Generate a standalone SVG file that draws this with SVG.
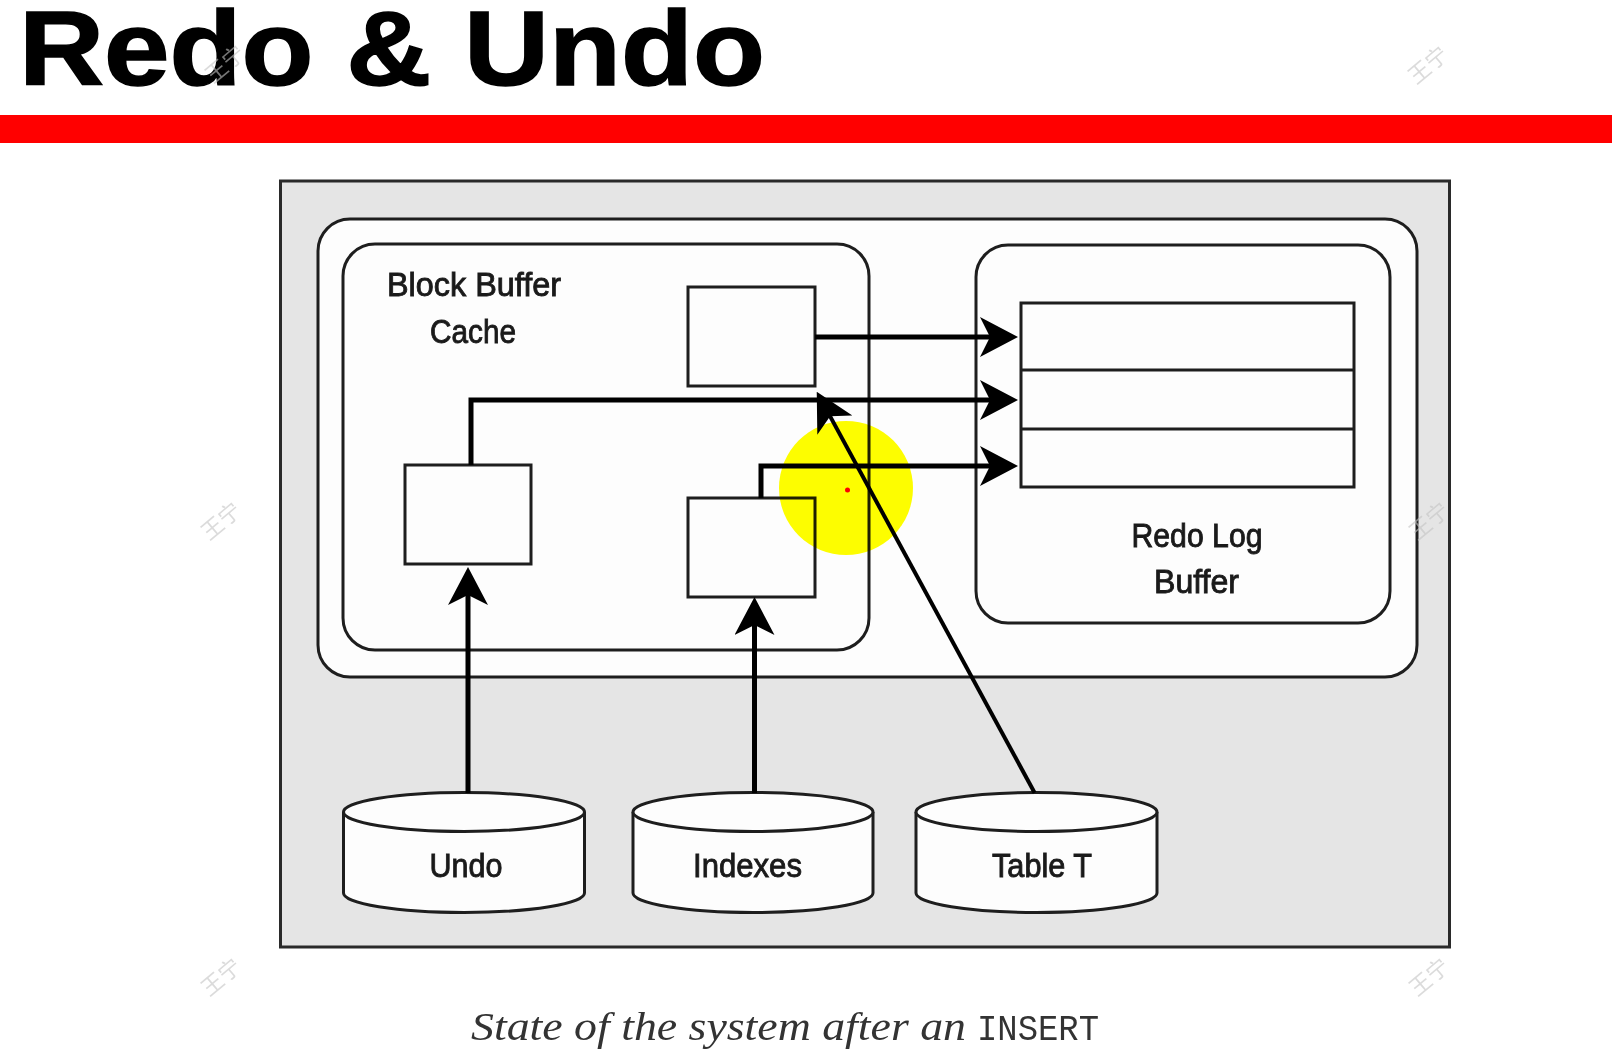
<svg xmlns="http://www.w3.org/2000/svg" width="1612" height="1052" viewBox="0 0 1612 1052">
<style>
.box{fill:#fdfdfd;stroke:#1e1e1e;stroke-width:3}
.frame{fill:#e5e5e5;stroke:#2a2a2a;stroke-width:3}
.conn{fill:none;stroke:#000;stroke-width:5}
.lbl{font-family:"Liberation Sans Narrow","Liberation Sans",Arial,sans-serif;font-size:33.5px;fill:#1a1a1a;stroke:#1a1a1a;stroke-width:0.9;text-anchor:middle}
.wm{font-family:"Noto Sans CJK SC","Noto Sans",sans-serif;font-size:22px;fill:#c4c4c4;opacity:0.6;text-anchor:middle}
</style>
<defs>
<marker id="ah" viewBox="0 0 38 40" markerWidth="38" markerHeight="40" refX="23" refY="20" orient="auto" markerUnits="userSpaceOnUse">
<path d="M38,20 L0,0 L10,20 L0,40 Z" fill="#000"/>
</marker>
</defs>
<rect x="0" y="0" width="1612" height="1052" fill="#ffffff"/>
<g id="title">
<text x="19" y="85" font-family="'Liberation Sans',Arial,sans-serif" font-weight="bold" font-size="106" textLength="746" lengthAdjust="spacingAndGlyphs" fill="#000" stroke="#000" stroke-width="1.5">Redo &amp; Undo</text>
<rect x="0" y="115" width="1612" height="28" fill="#ff0000"/>
</g>
<g id="system">
<rect class="frame" x="280.5" y="181" width="1169" height="766"/>
</g>
<g id="sga">
<rect class="box" x="318" y="219" width="1099" height="458" rx="32" ry="32"/>
</g>
<g id="block-buffer-cache">
<rect class="box" x="343" y="244" width="526" height="406" rx="32" ry="32"/>
<text class="lbl" x="474" y="296" textLength="174" lengthAdjust="spacingAndGlyphs">Block Buffer</text>
<text class="lbl" x="473" y="343" textLength="86" lengthAdjust="spacingAndGlyphs">Cache</text>
</g>
<g id="block-table">
<rect class="box" x="688" y="287" width="127" height="99"/>
</g>
<g id="block-undo">
<rect class="box" x="405" y="465" width="126" height="99"/>
</g>
<g id="block-index">
<rect class="box" x="688" y="498" width="127" height="99"/>
</g>
<g id="redo-log-buffer">
<rect class="box" x="976" y="245" width="414" height="378" rx="32" ry="32"/>
<rect class="box" x="1021" y="303" width="333" height="184"/>
<line x1="1021" y1="370" x2="1354" y2="370" stroke="#1e1e1e" stroke-width="3"/>
<line x1="1021" y1="429" x2="1354" y2="429" stroke="#1e1e1e" stroke-width="3"/>
<text class="lbl" x="1197" y="547" textLength="131" lengthAdjust="spacingAndGlyphs">Redo Log</text>
<text class="lbl" x="1196.5" y="593" textLength="85" lengthAdjust="spacingAndGlyphs">Buffer</text>
</g>
<g id="undo">
<path class="box" d="M343.5,812 A120.5,19.5 0 0 1 584.5,812 L584.5,893 A120.5,19.5 0 0 1 343.5,893 Z"/>
<path class="box" d="M343.5,812 A120.5,19.5 0 0 0 584.5,812" fill="none"/>
<text class="lbl" x="466" y="877" textLength="73" lengthAdjust="spacingAndGlyphs">Undo</text>
</g>
<g id="indexes">
<path class="box" d="M633,812 A120,19.5 0 0 1 873,812 L873,893 A120,19.5 0 0 1 633,893 Z"/>
<path class="box" d="M633,812 A120,19.5 0 0 0 873,812" fill="none"/>
<text class="lbl" x="747.5" y="877" textLength="109" lengthAdjust="spacingAndGlyphs">Indexes</text>
</g>
<g id="table-t">
<path class="box" d="M916,812 A120.5,19.5 0 0 1 1157,812 L1157,893 A120.5,19.5 0 0 1 916,893 Z"/>
<path class="box" d="M916,812 A120.5,19.5 0 0 0 1157,812" fill="none"/>
<text class="lbl" x="1042" y="877" textLength="100" lengthAdjust="spacingAndGlyphs">Table T</text>
</g>
<g id="connectors">
<path class="conn" d="M815,337 L1003,337" marker-end="url(#ah)"/>
<path class="conn" d="M471,465 L471,400 L1003,400" marker-end="url(#ah)"/>
<path class="conn" d="M761,498 L761,466 L1003,466" marker-end="url(#ah)"/>
<path class="conn" d="M468,793 L468,582" marker-end="url(#ah)"/>
<path class="conn" d="M754.5,793 L754.5,612" marker-end="url(#ah)"/>
<path class="conn" style="stroke-width:4" d="M1034.6,792.7 L823.9,404.9" marker-end="url(#ah)"/>
</g>
<g id="caption">
<text x="471" y="1040" font-family="'Liberation Serif','Times New Roman',serif" font-style="italic" font-size="40" fill="#333" textLength="495" lengthAdjust="spacingAndGlyphs">State of the system after an</text>
<text x="977" y="1040" font-family="'Liberation Mono','Courier New',monospace" font-size="36" fill="#333" textLength="122" lengthAdjust="spacingAndGlyphs">INSERT</text>
</g>
<g id="pointer" style="mix-blend-mode:multiply">
<circle cx="846" cy="488" r="67" fill="#ffff00"/>
<circle cx="847.5" cy="490" r="2.5" fill="#ff0000"/>
</g>
<g id="watermarks">
<text class="wm" transform="translate(230,70) rotate(-40)">王宁</text>
<text class="wm" transform="translate(1433,71) rotate(-40)">王宁</text>
<text class="wm" transform="translate(226,527) rotate(-40)">王宁</text>
<text class="wm" transform="translate(1434,527) rotate(-40)">王宁</text>
<text class="wm" transform="translate(226,983) rotate(-40)">王宁</text>
<text class="wm" transform="translate(1434,983) rotate(-40)">王宁</text>
</g>
</svg>
